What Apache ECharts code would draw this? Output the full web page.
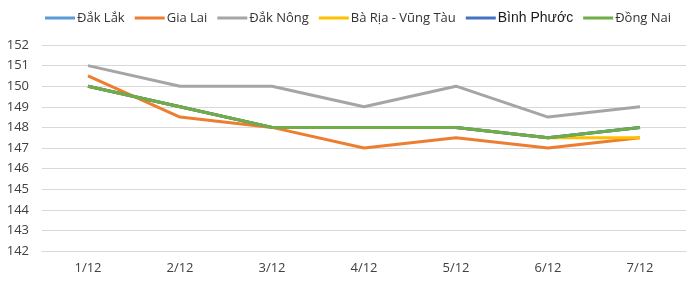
<!DOCTYPE html>
<html><head><meta charset="utf-8">
<script src="https://cdn.jsdelivr.net/npm/echarts@6/dist/echarts.min.js"></script>
<style>html,body{margin:0;padding:0;background:#fff}#c{width:697px;height:284px}</style>
</head><body><div id="c"></div>
<script>
const categories = ['1/12','2/12','3/12','4/12','5/12','6/12','7/12'];
const dakLak   = [150, 149, 148, 148, 148, 147.5, 148];
const giaLai   = [150.5, 148.5, 148, 147, 147.5, 147, 147.5];
const dakNong  = [151, 150, 150, 149, 150, 148.5, 149];
const baRia    = [150, 149, 148, 148, 148, 147.5, 147.5];
const binhPhuoc= [150, 149, 148, 148, 148, 147.5, 148];
const dongNai  = [150, 149, 148, 148, 148, 147.5, 148];
const names = ['Đắk Lắk','Gia Lai','Đắk Nông','Bà Rịa - Vũng Tàu','Bình Phước','Đồng Nai'];
const colors = ['#5B9BD5','#ED7D31','#A5A5A5','#FFC000','#4472C4','#70AD47'];
const datas = [dakLak, giaLai, dakNong, baRia, binhPhuoc, dongNai];
const chart = echarts.init(document.getElementById('c'));
chart.setOption({
  animation:false,
  color: colors,
  legend:{
    top:6, left:40, itemWidth:30, itemHeight:3, itemGap:10,
    icon:'rect',
    textStyle:{color:'#333333', fontSize:13, fontFamily:'Open Sans', padding:[0,0,0,-3],
      rich:{a:{fontFamily:'Liberation Sans', fontSize:14, color:'#1a1a1a'}}},
    formatter: n => n==='Bình Phước' ? '{a|'+n+'}' : n,
    data: names
  },
  grid:{left:42, right:11, top:45, bottom:33},
  xAxis:{type:'category', data:categories, boundaryGap:true,
    axisLine:{lineStyle:{color:'#d9d9d9'}},
    axisTick:{alignWithLabel:true, length:3, lineStyle:{color:'#d9d9d9'}},
    axisLabel:{color:'#404040', fontSize:13, fontFamily:'Open Sans', margin:11}},
  yAxis:{type:'value', min:142, max:152, interval:1,
    axisLabel:{color:'#404040', fontSize:13, fontFamily:'Open Sans', margin:13},
    splitLine:{lineStyle:{color:'#d9d9d9'}}},
  series: names.map((n,i)=>({name:n, type:'line', data:datas[i], symbol:'none',
    lineStyle:{width:3, color:colors[i]}, itemStyle:{color:colors[i]}}))
});
</script></body></html>
